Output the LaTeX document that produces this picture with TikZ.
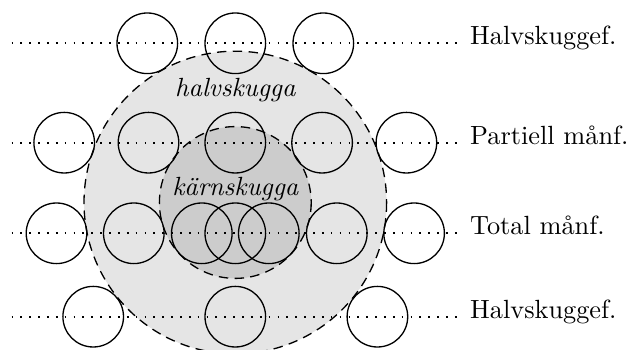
\documentclass[tikz,border=0pt]{standalone}
\usepackage{fontspec}

\tikzset{every picture/.style={line width=0.5pt}}
\tikzset{
  moon/.style={draw=black},
  shadowrim/.style={dash pattern=on 3.6pt off 2.4pt},
  rowline/.style={line width=0.65pt, dash pattern=on 0.65pt off 2.72pt},
  rowlabel/.style={anchor=base west, font=\normalsize, inner sep=0pt},
  zonelabel/.style={anchor=base, font=\normalsize\itshape, inner sep=0pt}
}

\begin{document}
\begin{tikzpicture}[x=0.38pt,y=0.38pt,yscale=-1]
	\useasboundingbox (0,0) rectangle (628,350);

	%Shape: Circle [halvskugga]
	\draw [shadowrim, fill=black!10] (235.3,202.5) circle (151.3);
	%Shape: Circle [kaernskugga]
	\draw [shadowrim, fill=black!20] (235.3,202.5) circle (75.9);

	%Straight Lines [rows]
	\draw [rowline] (11.5,43.3) -- (457,43.3);
	\draw [rowline] (11.5,142.7) -- (457,142.7);
	\draw [rowline] (11.5,233.3) -- (457,233.3);
	\draw [rowline] (11.5,316.7) -- (457,316.7);

	%Shape: Circle [row 1]
	\draw [moon] (147.3,43.3) circle (30.3);
	\draw [moon] (235.3,43.3) circle (30.3);
	\draw [moon] (323.3,43.3) circle (30.3);
	%Shape: Circle [row 2]
	\draw [moon] (64.2,142.7) circle (30.3);
	\draw [moon] (148.5,142.7) circle (30.3);
	\draw [moon] (235.3,142.7) circle (30.3);
	\draw [moon] (322.1,142.7) circle (30.3);
	\draw [moon] (406.4,142.7) circle (30.3);
	%Shape: Circle [row 3]
	\draw [moon] (56.5,233.3) circle (30.3);
	\draw [moon] (133.8,233.3) circle (30.3);
	\draw [moon] (201.8,233.3) circle (30.3);
	\draw [moon] (235.3,233.3) circle (30.3);
	\draw [moon] (268.8,233.3) circle (30.3);
	\draw [moon] (336.8,233.3) circle (30.3);
	\draw [moon] (414.1,233.3) circle (30.3);
	%Shape: Circle [row 4]
	\draw [moon] (93.2,316.7) circle (30.3);
	\draw [moon] (235.3,316.7) circle (30.3);
	\draw [moon] (377.4,316.7) circle (30.3);

	% Text Node
	\node (halv) [zonelabel] at (235.3,97) {halvskugga};
	% Text Node
	\node (kaern) [zonelabel] at (235.3,195.5) {kärnskugga};
	% Text Node
	\node (rowA) [rowlabel] at (469.5,45) {Halvskuggef.};
	% Text Node
	\node (rowB) [rowlabel] at (469.5,144.4) {Partiell månf.};
	% Text Node
	\node (rowC) [rowlabel] at (469.5,235) {Total månf.};
	% Text Node
	\node (rowD) [rowlabel] at (469.5,318.4) {Halvskuggef.};

\end{tikzpicture}
\end{document}
